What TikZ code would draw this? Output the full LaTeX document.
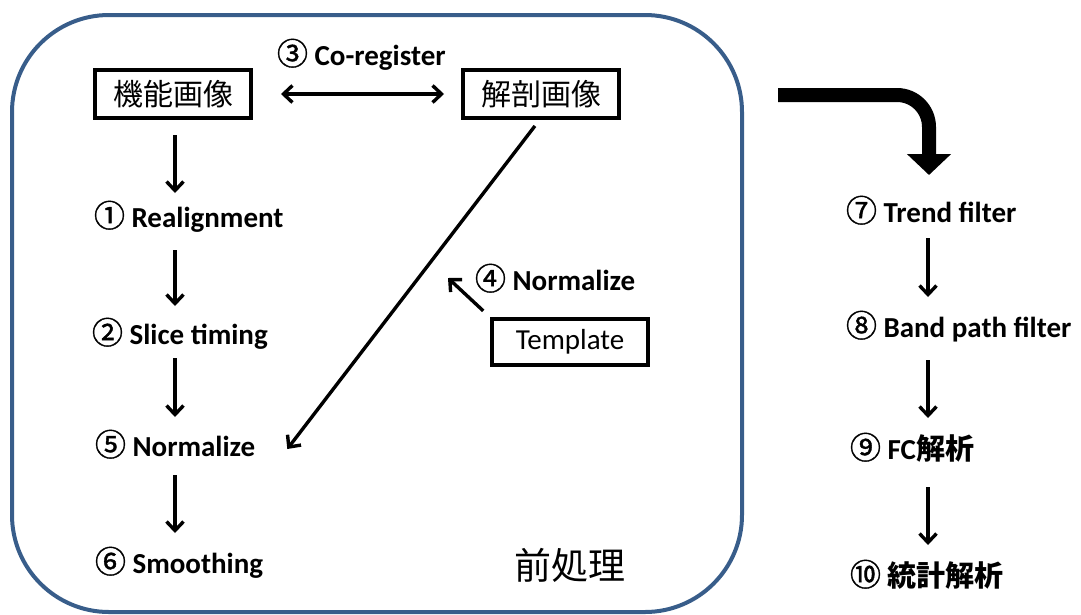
\documentclass[tikz,border=0pt]{standalone}
\usepackage{fontspec}
\setmainfont{Carlito}
\newfontfamily\cjk{Noto Sans CJK JP}
\newfontfamily\cjknum[FakeBold=1.2]{Noto Sans CJK JP}
\usetikzlibrary{arrows.meta}
\definecolor{frameblue}{RGB}{56,93,138}
\newcommand{\cnum}[1]{{\fontsize{31}{32}\selectfont\mdseries\cjknum #1}}
\tikzset{barbtip/.tip={Straight Barb[length=9pt,width=17pt,line width=3.4pt]}}
\begin{document}
\begin{tikzpicture}[x=1pt,y=-1pt,
  every node/.style={outer sep=0pt},
  imgbox/.style={draw,line width=4pt,minimum width=156pt,minimum height=48pt,inner sep=0pt,
    font=\fontsize{30}{32}\selectfont},
  step label/.style={anchor=west,inner sep=0pt,text height=20pt,text depth=6pt,
    font=\fontsize{29}{31}\selectfont\bfseries},
  arr/.style={line width=3.4pt,-barbtip},
  arrboth/.style={line width=3.4pt,barbtip-barbtip},
  bigarr/.style={line width=14pt,rounded corners=32pt,-{Triangle[length=21pt,width=43pt]}}]
\useasboundingbox (0,0) rectangle (1081,614);

% preprocessing frame
\draw[frameblue,line width=4pt,rounded corners=97pt] (12,15) rectangle (742,612);

% image boxes
\node[imgbox] (func) at (173,94) {\cjk 機能画像};
\node[imgbox] (anat) at (541,94) {\cjk 解剖画像};
\node[imgbox,minimum height=46pt,font=\fontsize{29}{31}\selectfont] (tmpl) at (570,342) {Template};

% steps inside the frame
\node[step label] (s3) at (277,58) {\cnum{③} Co-register};
\node[step label] (s1) at (94,220) {\cnum{①} Realignment};
\node[step label] (s2) at (92,337) {\cnum{②} Slice timing};
\node[step label] (s4) at (475,283) {\cnum{④} Normalize};
\node[step label] (s5) at (95,449) {\cnum{⑤} Normalize};
\node[step label] (s6) at (95,566) {\cnum{⑥} Smoothing};
\node[inner sep=0pt,font=\fontsize{37}{40}\selectfont\cjk] (pre) at (570,565) {前処理};

% analysis steps
\node[step label] (s7) at (846,215) {\cnum{⑦} Trend filter};
\node[step label] (s8) at (846,330) {\cnum{⑧} Band path filter};
\node[step label] (s9) at (850,452) {\cnum{⑨} FC{\cjk 解析}};
\node[step label] (s10) at (850,579) {\cnum{⑩} {\cjk 統計解析}};

\coordinate (colL) at (175,0);
\coordinate (colR) at (928,0);
\coordinate (t4) at (448,278);
\coordinate (bigS) at (778,95);
\coordinate (bigE) at (929,175);

% preprocessing chain
\draw[arr,shorten <=17pt,shorten >=14pt] (func.south -| colL) -- (s1.north -| colL);
\draw[arr,shorten <=17pt,shorten >=18pt] (s1.south -| colL) -- (s2.north -| colL);
\draw[arr,shorten <=8pt,shorten >=19pt] (s2.south -| colL) -- (s5.north -| colL);
\draw[arr,shorten <=13pt,shorten >=20pt] (s5.south -| colL) -- (s6.north -| colL);

% co-registration and normalisation
\draw[arrboth,shorten <=30pt,shorten >=19pt] (func.east) -- (anat.west);
\draw[arr,shorten <=10pt] (anat.south) -- ([xshift=32pt]s5.east);
\draw[arr,shorten <=12pt] (tmpl.north west) -- (t4);

% hand-over to analysis
\draw[bigarr] (bigS) -| (bigE);

% analysis chain
\draw[arr,shorten <=10pt,shorten >=20pt] (s7.south -| colR) -- (s8.north -| colR);
\draw[arr,shorten <=17pt,shorten >=21pt] (s8.south -| colR) -- (s9.north -| colR);
\draw[arr,shorten <=22pt,shorten >=21pt] (s9.south -| colR) -- (s10.north -| colR);
\end{tikzpicture}
\end{document}
